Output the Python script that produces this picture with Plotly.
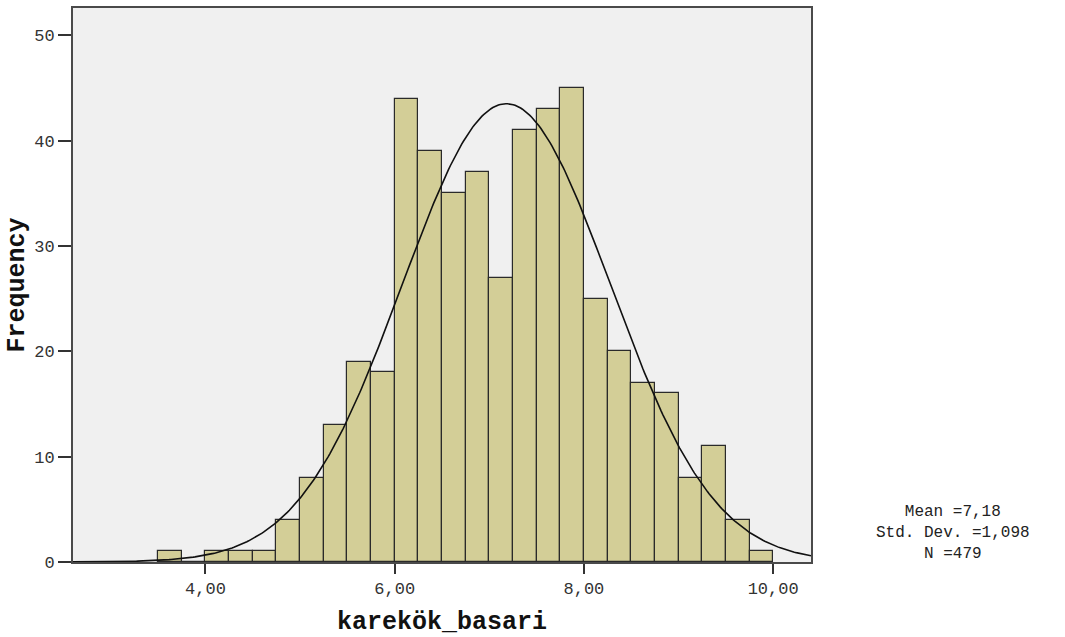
import numpy as np
import plotly.graph_objects as go

# Histogram bins (left edges) and frequencies
bin_left = [3.50, 3.75, 4.00, 4.25, 4.50, 4.75, 5.00, 5.25, 5.50, 5.75,
            6.00, 6.25, 6.50, 6.75, 7.00, 7.25, 7.50, 7.75, 8.00, 8.25,
            8.50, 8.75, 9.00, 9.25, 9.50, 9.75]
counts = [1, 0, 1, 1, 1, 4, 8, 13, 19, 18,
          44, 39, 35, 37, 27, 41, 43, 45, 25, 20,
          17, 16, 8, 11, 4, 1]
bin_width = 0.25

# Summary statistics shown on the chart
mean_val = 7.18
std_val = 1.098
n_val = 479

x_tickvals = [4, 6, 8, 10]
x_ticktext = ["4,00", "6,00", "8,00", "10,00"]
y_tickvals = [0, 10, 20, 30, 40, 50]
y_ticktext = ["0", "10", "20", "30", "40", "50"]

x_range = [2.60, 10.40]
y_range = [0, 52.6]

centers = [b + bin_width / 2 for b in bin_left]

# fitted normal curve
xc = np.linspace(x_range[0], x_range[1], 400)
yc = n_val * bin_width / (std_val * np.sqrt(2 * np.pi)) * np.exp(-0.5 * ((xc - mean_val) / std_val) ** 2)

fig = go.Figure()
fig.add_trace(go.Bar(
    x=centers, y=counts, width=bin_width,
    marker=dict(color="#D3CE97", line=dict(color="#2a2a2a", width=1.2)),
    showlegend=False, hoverinfo="x+y",
))
fig.add_trace(go.Scatter(
    x=xc, y=yc, mode="lines",
    line=dict(color="#111111", width=1.6),
    showlegend=False, hoverinfo="skip",
))

mono = "Liberation Mono, Courier New, monospace"

fig.update_layout(
    width=1065, height=637,
    margin=dict(l=73, r=254, t=6, b=74),
    paper_bgcolor="white",
    plot_bgcolor="#F0F0F0",
    bargap=0,
    font=dict(family=mono, color="#222222", size=17),
    xaxis=dict(
        range=x_range, tickvals=x_tickvals, ticktext=x_ticktext,
        ticks="outside", ticklen=10, tickwidth=2, tickcolor="#333333",
        showgrid=False, zeroline=False,
        showline=True, linecolor="#4a4a4a", linewidth=2, mirror=True,
        tickfont=dict(family=mono, size=17, color="#333333"),
        title=dict(text="<b>karekök_basari</b>", font=dict(family=mono, size=25, color="#111111"), standoff=14),
    ),
    yaxis=dict(
        range=y_range, tickvals=y_tickvals, ticktext=y_ticktext,
        ticks="outside", ticklen=13, tickwidth=2, tickcolor="#333333",
        showgrid=False, zeroline=False,
        showline=True, linecolor="#4a4a4a", linewidth=2, mirror=True,
        tickfont=dict(family=mono, size=17, color="#333333"),
        title=dict(text="<b>Frequency</b>", font=dict(family=mono, size=25, color="#111111"), standoff=2),
    ),
)

stat_text = "Mean =7,18<br>Std. Dev. =1,098<br>N =479"
fig.add_annotation(
    text=stat_text, xref="paper", yref="paper",
    x=(953 - 73) / (1065 - 73 - 254), y=1 - (534 - 6) / (637 - 6 - 74),
    xanchor="center", yanchor="middle", align="center", showarrow=False,
    font=dict(family=mono, size=16, color="#222222"),
)

fig.write_html("out.html")
